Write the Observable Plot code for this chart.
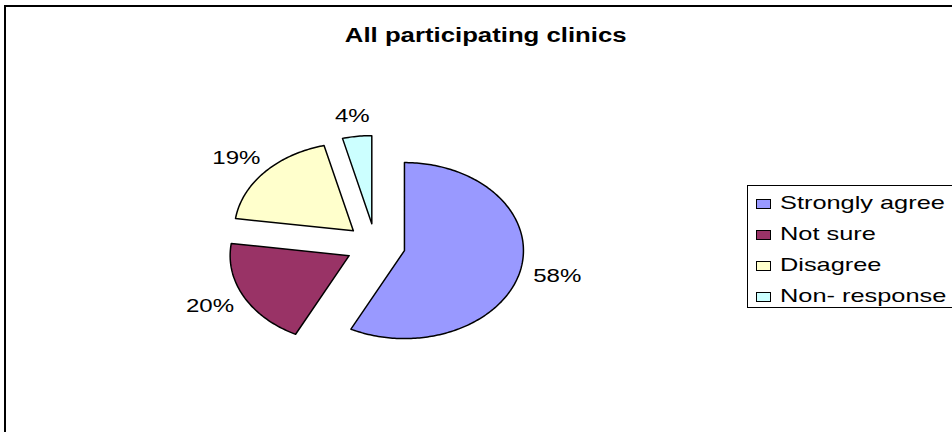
<!DOCTYPE html>
<html>
<head>
<meta charset="utf-8">
<script src="https://cdn.jsdelivr.net/npm/d3@7"></script>
<script src="https://cdn.jsdelivr.net/npm/@observablehq/plot@0.6"></script>
<style>
  html, body { margin: 0; padding: 0; background: #fff; }
  #wrap { position: relative; width: 952px; height: 432px; overflow: hidden; font-family: Arial, "Liberation Sans", sans-serif; }
  #frame { position: absolute; left: 4px; top: 5px; width: 1000px; height: 500px; border: 2px solid #000; box-sizing: border-box; }
  #title { position: absolute; left: 0; width: 972px; top: 24px; text-align: center; font-weight: bold; font-size: 19.5px; line-height: 22px; }
  #title span { display: inline-block; transform: scaleX(1.32); transform-origin: center; }
  #chart { position: absolute; left: 0; top: 0; }
  #legend { position: absolute; left: 747px; top: 185px; width: 300px; height: 123px; border: 1.5px solid #000; box-sizing: border-box; }
  .item { position: absolute; left: 0; height: 22px; }
  .sw { position: absolute; left: 8px; top: 6.5px; width: 13px; height: 8px; border: 1px solid #000; }
  .lt { position: absolute; left: 32px; top: 0; font-size: 18.5px; line-height: 22px; white-space: nowrap; transform: scaleX(1.37); transform-origin: left center; }
</style>
</head>
<body>
<div id="wrap">
  <div id="frame"></div>
  <div id="chart"></div>
  <div id="title"><span></span></div>
  <div id="legend"></div>
</div>
<script>
const title = "All participating clinics";
const categories = ["Strongly agree", "Not sure", "Disagree", "Non- response"];
const values = [58, 20, 19, 4];
const labels = ["58%", "20%", "19%", "4%"];
const colors = ["#9999FF", "#993366", "#FFFFCC", "#CCFFFF"];

// geometry (pie in normalized units; ellipse comes from the x/y scale ranges)
const explode = 0.25;
const total = d3.sum(values);
const slices = [];
const labelData = [];
let start = 0;
categories.forEach((cat, i) => {
  const span = values[i] / total * 2 * Math.PI;
  const end = start + span;
  const mid = (start + end) / 2;
  const ox = explode * Math.sin(mid), oy = explode * Math.cos(mid);
  const pts = [{cat, x: ox, y: oy}];
  const n = Math.max(2, Math.ceil(span / (Math.PI / 180)));
  for (let k = 0; k <= n; k++) {
    const a = start + span * k / n;
    pts.push({cat, x: ox + Math.sin(a), y: oy + Math.cos(a)});
  }
  pts.push({cat, x: ox, y: oy});
  slices.push(...pts);
  const dx = Math.sin(mid), dy = Math.cos(mid);
  labelData.push({
    text: labels[i],
    x: dx * (explode + 1.12 + 0.2),
    y: dy * (explode + 1.12 + 0.11)
  });
  start = end;
});

const cx = 375, cy = 245, rx = 119, ry = 88;

const plot = Plot.plot({
  width: 952,
  height: 432,
  margin: 0,
  className: "pie",
  style: {fontFamily: "Arial, 'Liberation Sans', sans-serif", background: "transparent"},
  x: {domain: [-1, 1], range: [cx - rx, cx + rx], axis: null},
  y: {domain: [-1, 1], range: [cy + ry, cy - ry], axis: null},
  color: {domain: categories, range: colors},
  marks: [
    Plot.line(slices, {x: "x", y: "y", z: "cat", fill: "cat", stroke: "#000", strokeWidth: 1.5, curve: "linear"}),
    Plot.text(labelData, {x: "x", y: "y", text: "text", fontSize: 18.5, fill: "#000"})
  ]
});
// widen the label glyphs horizontally about their anchor, like the reference
plot.querySelectorAll("text").forEach(t => {
  const tr = t.getAttribute("transform");
  if (tr) {
    t.setAttribute("transform", tr + " scale(1.3,1)");
  } else {
    const px = parseFloat(t.getAttribute("x")) || 0;
    const py = parseFloat(t.getAttribute("y")) || 0;
    t.setAttribute("transform", `translate(${px},${py}) scale(1.3,1) translate(${-px},${-py})`);
  }
});
document.getElementById("chart").appendChild(plot);

document.querySelector("#title span").textContent = title;

const legend = document.getElementById("legend");
const rowTops = [6, 37, 68, 99];
categories.forEach((cat, i) => {
  const it = document.createElement("div");
  it.className = "item";
  it.style.top = rowTops[i] + "px";
  const sw = document.createElement("div");
  sw.className = "sw";
  sw.style.background = colors[i];
  const lt = document.createElement("div");
  lt.className = "lt";
  lt.textContent = cat;
  it.appendChild(sw);
  it.appendChild(lt);
  legend.appendChild(it);
});
</script>
</body>
</html>
